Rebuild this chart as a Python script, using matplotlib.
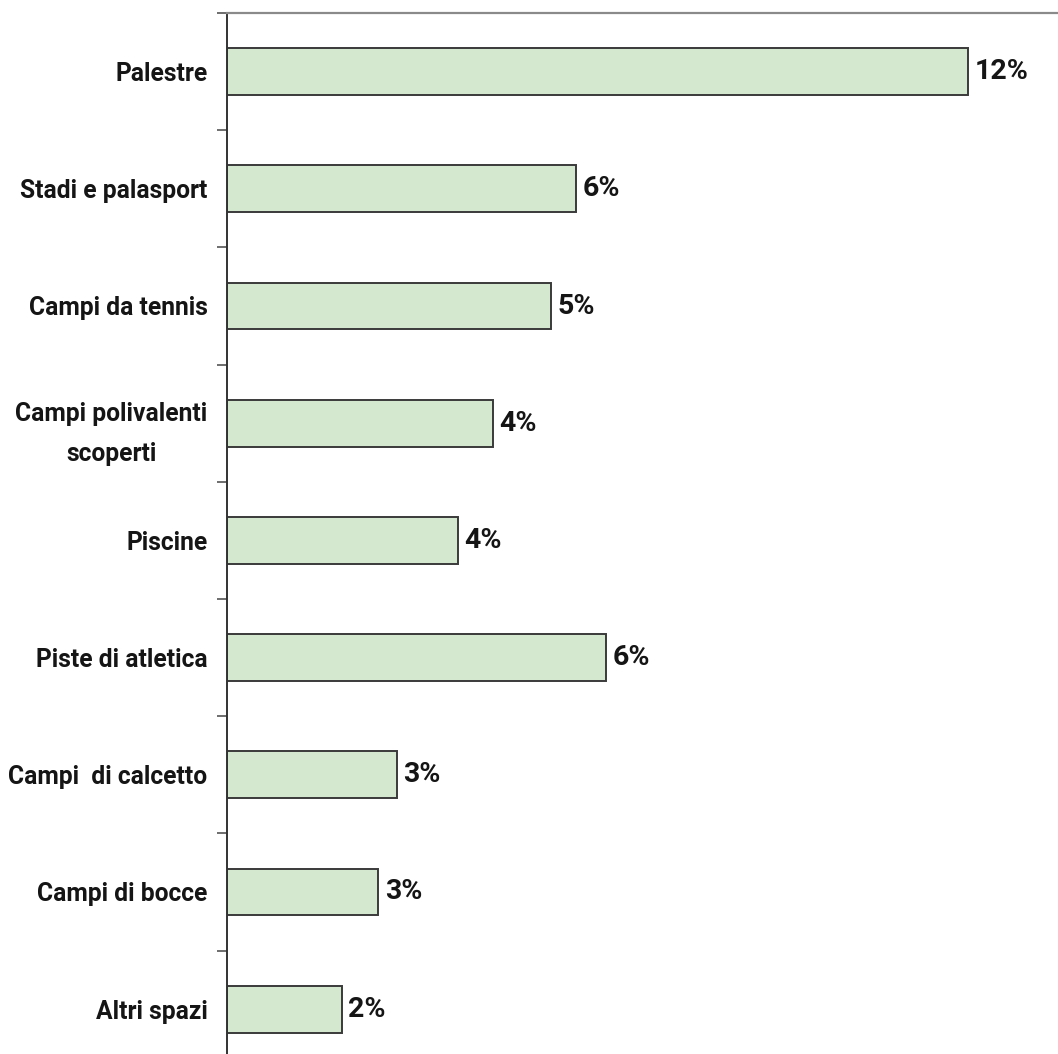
import matplotlib.pyplot as plt
import numpy as np

# impianti sportivi, quota percentuale
categorie = [
    'Palestre',
    'Stadi e palasport',
    'Campi da tennis',
    'Campi polivalenti\nscoperti',
    'Piscine',
    'Piste di atletica',
    'Campi  di calcetto',
    'Campi di bocce',
    'Altri spazi',
]
quote = [12.4, 5.84, 5.42, 4.45, 3.86, 6.34, 2.84, 2.53, 1.92]

plt.rcParams['font.family'] = ['Roboto', 'DejaVu Sans']

W, H = 1058, 1054
fig = plt.figure(figsize=(W / 100, H / 100), dpi=100)

# asse verticale a x=227px, linea superiore a y=13px, 9 fasce da ~117px
top = 1 - 13 / H
alt = 9 * 117.2 / H
ax = fig.add_axes([227 / W, top - alt, 1 - 227 / W, alt])

y = np.arange(len(categorie))
ax.barh(y, quote, height=0.40, color='#d4e8cf', edgecolor='#3a3a3a', linewidth=1.4)

ax.set_ylim(len(categorie) - 0.5, -0.5)
ax.set_xlim(0, (W - 227) / 59.76)

for yi, v in zip(y, quote):
    ax.text(v + 0.11, yi, f'{v:.0f}%', va='center', ha='left',
            fontsize=20.5, fontweight='bold', color='#151515')

ax.set_yticks(y)
ax.set_yticklabels(categorie, fontsize=17.7, fontweight='bold', color='#151515',
                   multialignment='center', linespacing=1.85)
ax.tick_params(axis='y', which='major', length=0, pad=14)
ax.set_yticks(np.arange(len(categorie) + 1) - 0.5, minor=True)
ax.tick_params(axis='y', which='minor', length=7, width=1.2, color='#555555')
ax.set_xticks([])

ax.spines['left'].set_color('#333333')
ax.spines['left'].set_linewidth(1.4)
ax.spines['top'].set_color('#8a8a8a')
ax.spines['top'].set_linewidth(1.6)
ax.spines['right'].set_visible(False)
ax.spines['bottom'].set_visible(False)

fig.savefig('out.png', dpi=100, facecolor='white')
